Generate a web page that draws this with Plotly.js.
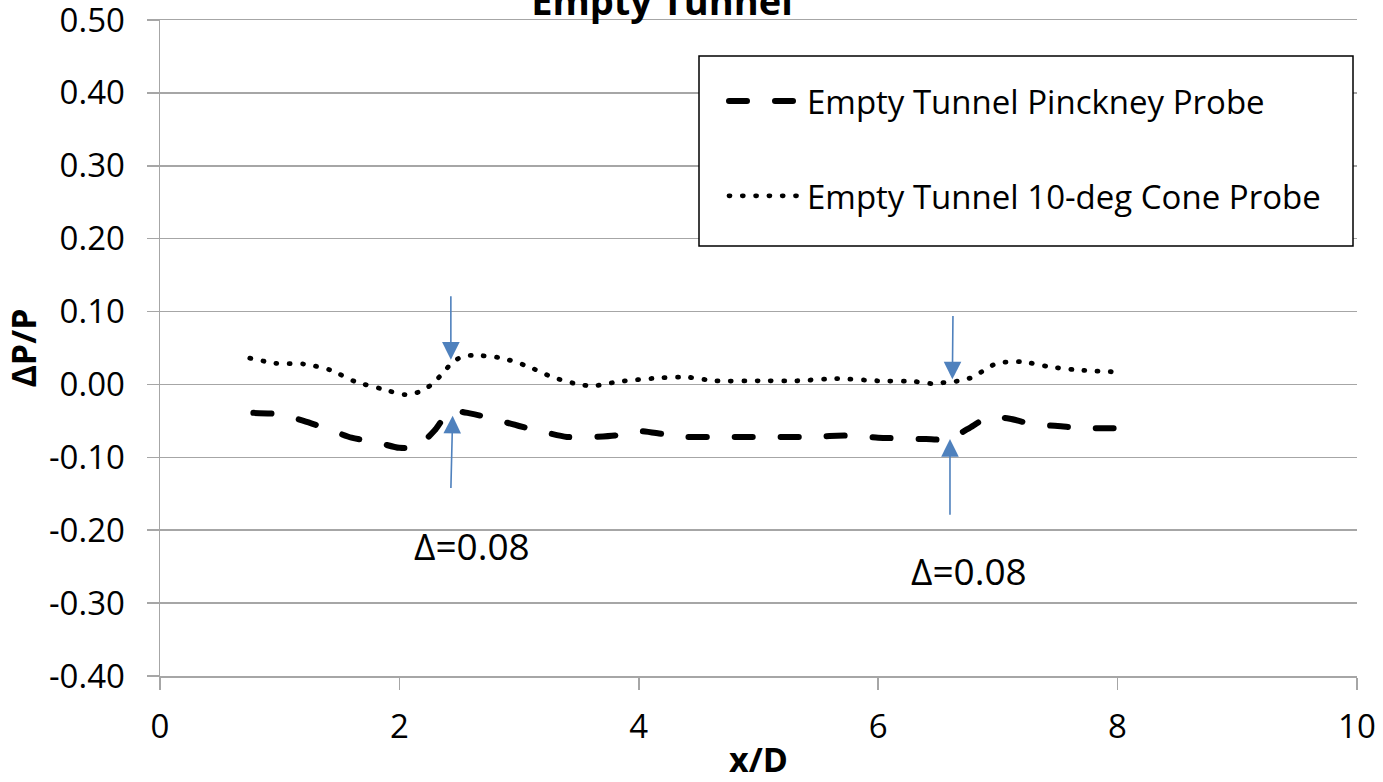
<!DOCTYPE html>
<html>
<head>
<meta charset="utf-8">
<script src="https://cdn.plot.ly/plotly-3.0.1.min.js"></script>
<style>
  html, body { margin: 0; padding: 0; background: #fff; }
  #chart { width: 1383px; height: 782px; }
  .scatterlayer path.js-line, .legend path.js-line { stroke-linecap: round; }
</style>
</head>
<body>
<div id="chart"></div>
<script>
// ---- data ----
const pinckneyX = [0.78, 1.0, 1.2, 1.4, 1.6, 1.8, 2.0, 2.15, 2.3, 2.42, 2.6, 2.8, 3.0, 3.2, 3.4, 3.6, 3.8, 4.0, 4.2, 4.4, 4.6, 5.0, 5.4, 5.8, 6.0, 6.2, 6.4, 6.58, 6.75, 6.92, 7.1, 7.3, 7.5, 7.7, 8.0];
const pinckneyY = [-0.039, -0.041, -0.050, -0.061, -0.073, -0.079, -0.087, -0.085, -0.062, -0.037, -0.040, -0.048, -0.057, -0.065, -0.072, -0.072, -0.070, -0.064, -0.068, -0.072, -0.072, -0.072, -0.072, -0.070, -0.073, -0.074, -0.075, -0.075, -0.061, -0.045, -0.047, -0.055, -0.057, -0.060, -0.060];

const coneX = [0.75, 0.97, 1.2, 1.42, 1.63, 1.85, 2.05, 2.17, 2.27, 2.36, 2.43, 2.52, 2.63, 2.86, 3.07, 3.28, 3.5, 3.62, 3.84, 4.18, 4.40, 4.64, 5.0, 5.32, 5.65, 6.0, 6.3, 6.46, 6.57, 6.68, 6.79, 6.89, 6.99, 7.10, 7.21, 7.44, 7.66, 8.0];
const coneY = [0.036, 0.029, 0.028, 0.020, 0.004, -0.006, -0.014, -0.010, 0.000, 0.015, 0.028, 0.038, 0.040, 0.036, 0.025, 0.010, 0.000, -0.002, 0.004, 0.009, 0.010, 0.005, 0.005, 0.005, 0.008, 0.005, 0.004, 0.001, 0.003, 0.005, 0.010, 0.020, 0.029, 0.031, 0.031, 0.024, 0.020, 0.017];

const seriesNames = ["Empty Tunnel Pinckney Probe", "Empty Tunnel 10-deg Cone Probe"];

// arrows: tip and tail positions in data units
const arrowTipX  = [2.43, 2.445, 6.62, 6.60];
const arrowTipY  = [0.034, -0.043, 0.007, -0.075];
const arrowTailX = [2.43, 2.43, 6.625, 6.60];
const arrowTailY = [0.123, -0.144, 0.096, -0.181];

const deltaLabels = ["Δ=0.08", "Δ=0.08"];
const deltaX = [2.61, 6.76];
const deltaY = [-0.221, -0.255];

const yTickVals = [-0.4, -0.3, -0.2, -0.1, 0, 0.1, 0.2, 0.3, 0.4, 0.5];
const yTickText = ["-0.40", "-0.30", "-0.20", "-0.10", "0.00", "0.10", "0.20", "0.30", "0.40", "0.50"];
const xTickVals = [0, 2, 4, 6, 8, 10];

// ---- chart ----
const FONT = "Open Sans, Noto Sans, DejaVu Sans, sans-serif";
const gridColor = "#a6a6a6";
const arrowColor = "#4f81bd";

const traces = [
  {
    x: pinckneyX, y: pinckneyY, type: "scatter", mode: "lines",
    name: seriesNames[0], legendgroup: "a",
    line: { color: "#000", width: 6, dash: "18px,28px", shape: "spline", smoothing: 0.7 }
  },
  {
    x: coneX, y: coneY, type: "scatter", mode: "lines",
    name: seriesNames[1], legendgroup: "b",
    line: { color: "#000", width: 4.8, dash: "1px,12.3px", shape: "spline", smoothing: 0.7 }
  }
];

const annotations = [];
for (let i = 0; i < arrowTipX.length; i++) {
  annotations.push({
    x: arrowTipX[i], y: arrowTipY[i], xref: "x", yref: "y",
    ax: arrowTailX[i], ay: arrowTailY[i], axref: "x", ayref: "y",
    text: "", showarrow: true, arrowhead: 2, arrowsize: 2.2, arrowwidth: 1.6,
    arrowcolor: arrowColor
  });
}
for (let i = 0; i < deltaLabels.length; i++) {
  annotations.push({
    x: deltaX[i], y: deltaY[i], xref: "x", yref: "y",
    text: deltaLabels[i], showarrow: false,
    font: { family: FONT, size: 37, color: "#000" },
    xanchor: "center", yanchor: "middle"
  });
}

const layout = {
  width: 1383, height: 782,
  margin: { l: 160, r: 26, t: 20, b: 106 },
  paper_bgcolor: "#fff", plot_bgcolor: "#fff",
  font: { family: FONT, color: "#000", size: 32 },
  title: {
    text: "<b>Empty Tunnel</b>",
    font: { family: FONT, size: 38, color: "#000" },
    x: 662 / 1383, xref: "container", xanchor: "center",
    y: 0.9975, yref: "container", yanchor: "middle"
  },
  xaxis: {
    range: [0, 10.0005], tickvals: xTickVals, ticktext: xTickVals.map(String),
    showgrid: false, zeroline: false,
    showline: true, mirror: true, linecolor: gridColor, linewidth: 1.5,
    ticks: "outside", ticklen: 12, tickwidth: 1.5, tickcolor: gridColor,
    tickfont: { family: FONT, size: 33, color: "#000" },
    ticklabelstandoff: 9, ticklabeloverflow: "allow",
    title: { text: "<b>x/D</b>", font: { family: FONT, size: 34, color: "#000" }, standoff: 6 }
  },
  yaxis: {
    range: [-0.4, 0.5], tickvals: yTickVals, ticktext: yTickText,
    showgrid: true, gridcolor: gridColor, gridwidth: 1.5, zeroline: false,
    showline: true, linecolor: gridColor, linewidth: 1.5,
    ticks: "outside", ticklen: 12, tickwidth: 1.5, tickcolor: gridColor,
    tickfont: { family: FONT, size: 33, color: "#000" },
    ticklabelstandoff: 15, ticklabeloverflow: "allow",
    title: { text: "<b>ΔP/P</b>", font: { family: FONT, size: 34, color: "#000" }, standoff: 12 }
  },
  showlegend: true,
  legend: {
    x: (724 - 160) / 1197, y: (676 - 73) / 656, xref: "paper", yref: "paper",
    xanchor: "left", yanchor: "top",
    bgcolor: "rgba(0,0,0,0)", borderwidth: 0,
    font: { family: FONT, size: 33, color: "#000" },
    traceorder: "grouped", tracegroupgap: 49, itemwidth: 73
  },
  shapes: [{
    type: "rect", xref: "paper", yref: "paper", layer: "above",
    x0: (699 - 160) / 1197, x1: (1353 - 160) / 1197,
    y0: (676 - 246) / 656, y1: (676 - 56) / 656,
    line: { color: "#000", width: 1.5 }, fillcolor: "#fff"
  }],
  annotations: annotations
};

Plotly.newPlot("chart", traces, layout, { displayModeBar: false, staticPlot: true });
</script>
</body>
</html>
